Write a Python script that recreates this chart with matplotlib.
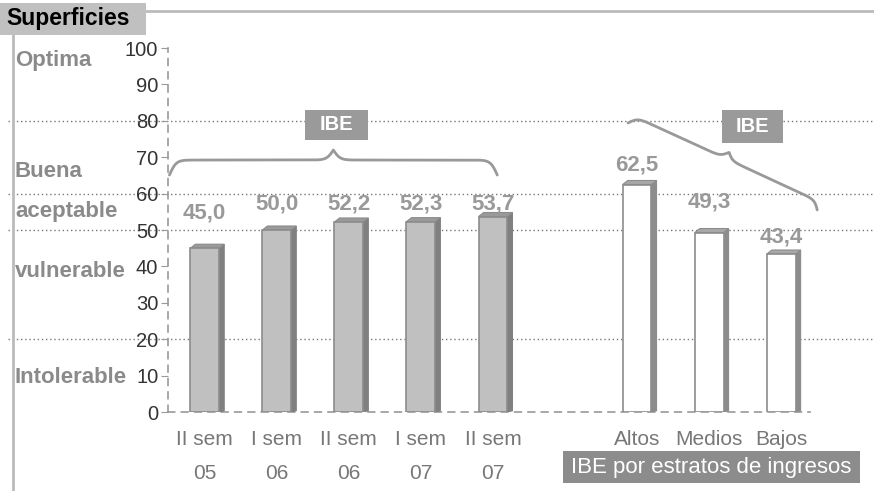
import matplotlib
matplotlib.use('Agg')
import matplotlib.pyplot as plt
import matplotlib.transforms as mtransforms
from matplotlib.patches import Rectangle, Polygon
import numpy as np

plt.rcParams['font.family'] = ['Liberation Sans', 'DejaVu Sans']

# ---------------- data ----------------
periods = ['II sem\n05', 'I sem\n06', 'II sem\n06', 'I sem\n07', 'II sem\n07']
ibe_period = [45.0, 50.0, 52.2, 52.3, 53.7]
strata = ['Altos', 'Medios', 'Bajos']
ibe_strata = [62.5, 49.3, 43.4]
levels = ['Optima', 'Buena', 'aceptable', 'vulnerable', 'Intolerable']
level_y = [96.7, 66.2, 55.2, 38.5, 9.6]
thresholds = [20, 50, 60, 80]
yticks = [0, 10, 20, 30, 40, 50, 60, 70, 80, 90, 100]

# label heights (layout)
label_y_period = [54.7, 57.1, 57.1, 57.1, 57.1]
label_y_strata = [67.9, 57.7, 48.1]

W, H = 874, 491
fig = plt.figure(figsize=(W / 100, H / 100), dpi=100)


def fx(px):
    return px / W


def fy(py):
    return 1 - py / H


ax = fig.add_axes([fx(168), fy(412), fx(810) - fx(168), fy(48) - fy(412)])
ax.set_xlim(-0.51, 8.40)
ax.set_ylim(0, 100)

for s in ['top', 'right']:
    ax.spines[s].set_visible(False)
for s in ['left', 'bottom']:
    ax.spines[s].set_linestyle((0, (4, 4)))
    ax.spines[s].set_color('#999999')
    ax.spines[s].set_linewidth(1.2)

ax.set_yticks(yticks)
ax.set_yticklabels([str(t) for t in yticks])
ax.tick_params(axis='y', direction='out', length=5, color='#999999',
               labelsize=14.5, labelcolor='#333333', pad=2)

x_period = np.arange(len(periods))
x_strata = np.arange(len(strata)) + 6
ax.set_xticks(list(x_period) + list(x_strata))
ax.set_xticklabels(periods + strata, linespacing=2.0)
ax.tick_params(axis='x', length=0, labelsize=15, labelcolor='#777777', pad=13)

# threshold dotted lines across the figure
for t in thresholds:
    ax.axhline(t, xmin=(8 - 168) / 642, xmax=(874 - 168) / 642, color='#777777',
               lw=1, ls=(0, (1, 2)), clip_on=False, zorder=1)

bw = 0.40
dx = 0.07
dy = 1.1


def bar3d(x, v, face, side, top, edge):
    l, r = x - bw / 2, x + bw / 2
    ax.add_patch(Polygon([(r, 0), (r + dx, dy * 0.3), (r + dx, v + dy), (r, v)],
                         closed=True, facecolor=side, edgecolor=side, lw=0.8, zorder=3))
    ax.add_patch(Polygon([(l, v), (l + dx, v + dy), (r + dx, v + dy), (r, v)],
                         closed=True, facecolor=top, edgecolor=edge, lw=0.8, zorder=3))
    ax.add_patch(Rectangle((l, 0), bw, v, facecolor=face, edgecolor=edge,
                           lw=1.2, zorder=4))


for x, v in zip(x_period, ibe_period):
    bar3d(x, v, '#c0c0c0', '#808080', '#9a9a9a', '#8c8c8c')
for x, v in zip(x_strata, ibe_strata):
    bar3d(x, v, '#ffffff', '#8c8c8c', '#a8a8a8', '#8c8c8c')

for x, v, ly in zip(x_period, ibe_period, label_y_period):
    ax.text(x, ly, f'{v:.1f}'.replace('.', ','), ha='center', va='center',
            fontsize=16, fontweight='bold', color='#999999', zorder=5)
for x, v, ly in zip(x_strata, ibe_strata, label_y_strata):
    ax.text(x, ly, f'{v:.1f}'.replace('.', ','), ha='center', va='center',
            fontsize=16, fontweight='bold', color='#999999', zorder=5)

# level names at left
tr = mtransforms.blended_transform_factory(fig.transFigure, ax.transData)
for name, y in zip(levels, level_y):
    ax.text(fx(15), y, name, transform=tr, ha='left', va='center',
            fontsize=16, fontweight='bold', color='#8a8a8a', clip_on=False)


# braces
def brace(p0, p1, c1, c2, beta=0.3):
    P0 = ax.transData.transform(p0)
    P1 = ax.transData.transform(p1)
    d = P1 - P0
    L = np.hypot(*d)
    d = d / L
    n = np.array([-d[1], d[0]])
    half = L / 2
    u = np.linspace(0, half, 300)
    v = c1 * (2 / (1 + np.exp(-beta * u)) - 1) + c2 * 2 / (1 + np.exp(-beta * (u - half)))
    uf = np.concatenate([u, L - u[::-1]])
    vf = np.concatenate([v, v[::-1]])
    pts = P0 + np.outer(uf, d) + np.outer(vf, n)
    dat = ax.transData.inverted().transform(pts)
    ax.plot(dat[:, 0], dat[:, 1], color='#999999', lw=2, clip_on=False,
            zorder=2, solid_capstyle='round')


brace((-0.49, 65.1), (4.06, 65.1), 15, 10)
brace((5.875, 79.4), (8.5, 55.5), 8.5, 7)

# IBE boxes
for (x0, y0, x1, y1) in [(305, 110, 368, 140), (722, 110, 783, 143)]:
    fig.patches.append(Rectangle((fx(x0), fy(y1)), fx(x1) - fx(x0), fy(y0) - fy(y1),
                                 transform=fig.transFigure, facecolor='#9a9a9a',
                                 edgecolor='none', zorder=6))
    fig.text(fx((x0 + x1) / 2), fy((y0 + y1) / 2), 'IBE', ha='center', va='center',
             fontsize=14.5, fontweight='bold', color='white', zorder=7)

# bottom caption box
fig.patches.append(Rectangle((fx(563), fy(483)), fx(860) - fx(563), fy(451) - fy(483),
                             transform=fig.transFigure, facecolor='#8c8c8c',
                             edgecolor='none', zorder=6))
fig.text(fx(711), fy(467), 'IBE por estratos de ingresos', ha='center', va='center',
         fontsize=16, color='white', zorder=7)

# title box and frame lines
fig.lines.append(plt.Line2D([fx(146), 1], [fy(11), fy(11)], transform=fig.transFigure,
                            color='#bbbbbb', lw=2))
fig.lines.append(plt.Line2D([fx(13), fx(13)], [fy(35), 0], transform=fig.transFigure,
                            color='#bbbbbb', lw=2))
fig.patches.append(Rectangle((0, fy(35)), fx(146), fy(3) - fy(35),
                             transform=fig.transFigure, facecolor='#c0c0c0',
                             edgecolor='none', zorder=6))
fig.text(fx(6), fy(19), 'Superficies', ha='left', va='center',
         fontsize=16.5, fontweight='bold', color='black', zorder=7)

fig.savefig('out.png', dpi=100)
